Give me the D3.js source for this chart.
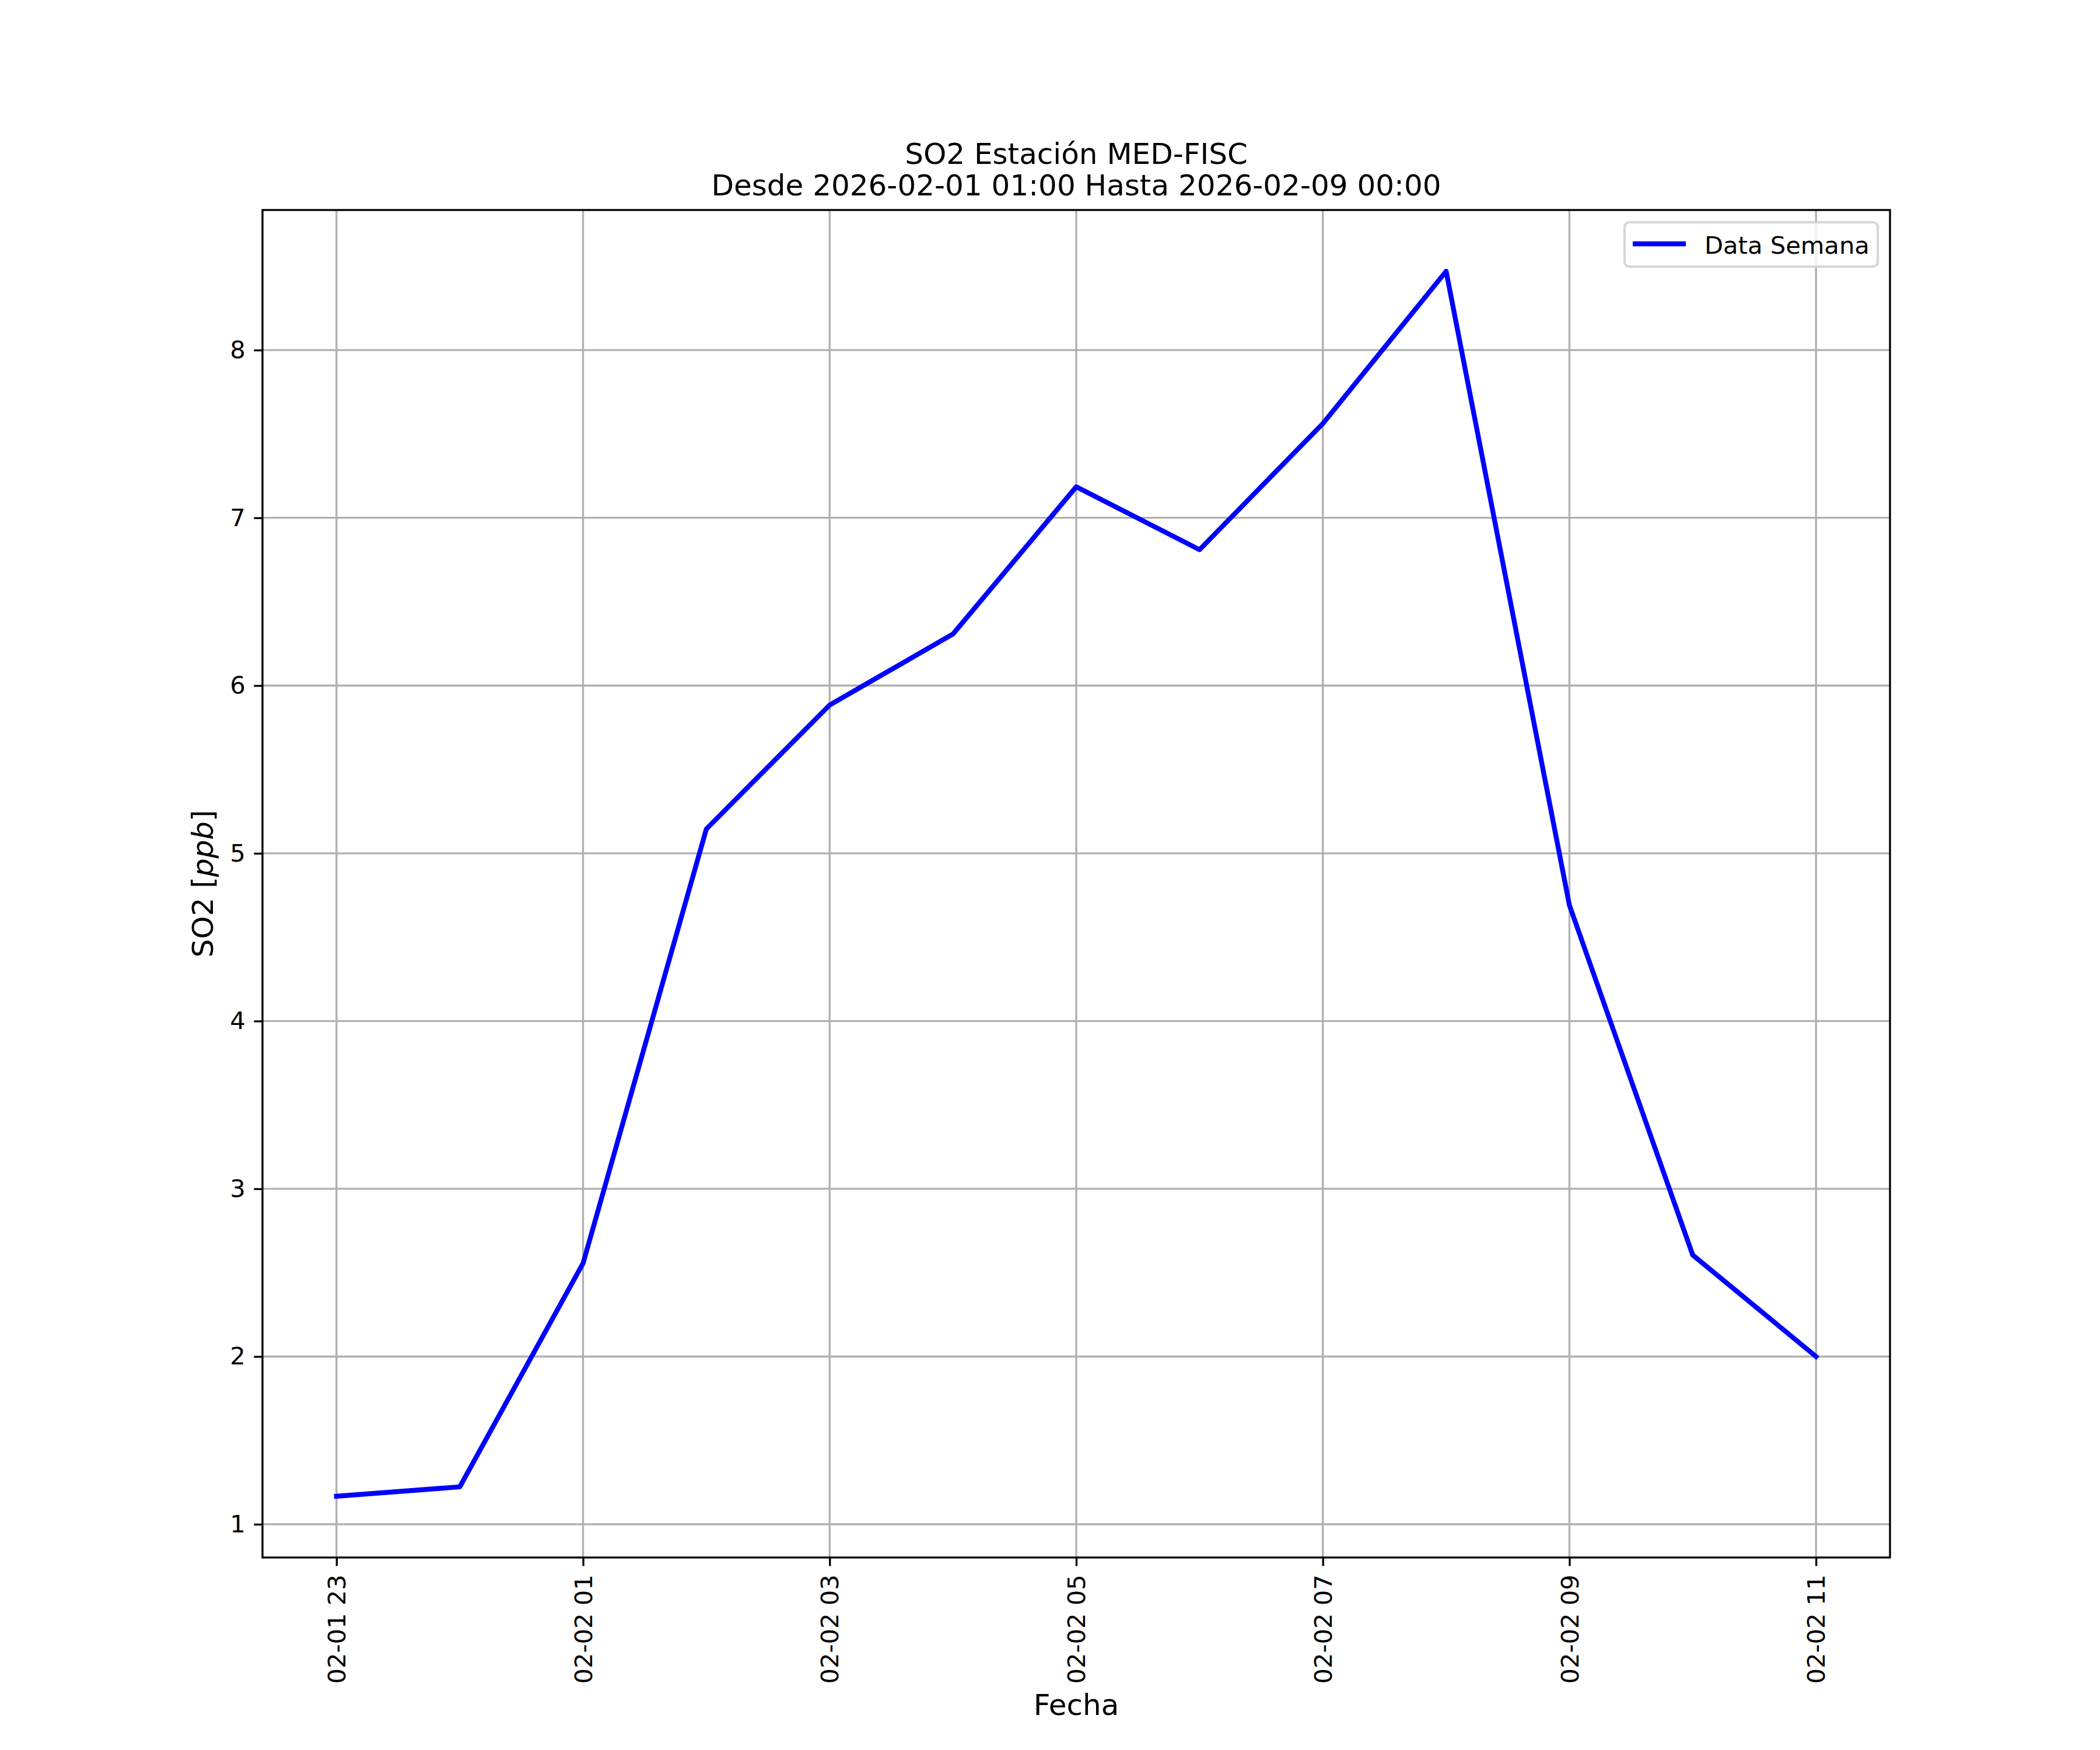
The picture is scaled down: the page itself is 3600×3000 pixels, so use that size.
<!DOCTYPE html>
<html>
<head>
<meta charset="utf-8">
<script src="https://cdn.jsdelivr.net/npm/d3@7"></script>
<style>
  html, body { margin: 0; padding: 0; background: #fff; }
  svg { display: block; }
  text { font-family: "DejaVu Sans", sans-serif; fill: #000; }
</style>
</head>
<body>
<script>
// ---------- data ----------
const times = [
  "2026-02-01 23:00", "2026-02-02 00:00", "2026-02-02 01:00", "2026-02-02 02:00",
  "2026-02-02 03:00", "2026-02-02 04:00", "2026-02-02 05:00", "2026-02-02 06:00",
  "2026-02-02 07:00", "2026-02-02 08:00", "2026-02-02 09:00", "2026-02-02 10:00",
  "2026-02-02 11:00"
];
const so2 = [1.167, 1.223, 2.556, 5.145, 5.884, 6.307, 7.185, 6.810, 7.562, 8.470, 4.690, 2.605, 2.000];
const xTickLabels = ["02-01 23", "02-02 01", "02-02 03", "02-02 05", "02-02 07", "02-02 09", "02-02 11"];
const yTicks = [1, 2, 3, 4, 5, 6, 7, 8];
const titleLines = ["SO2 Estación MED-FISC", "Desde 2026-02-01 01:00 Hasta 2026-02-09 00:00"];
const seriesName = "Data Semana";

// ---------- layout ----------
const W = 3600, H = 3000;
const pLeft = 450, pRight = 3240, pTop = 360, pBottom = 2670;
const dpi = 300, pt = dpi / 72;
const fsTick = 10 * pt, fsLabel = 12 * pt;

const parseT = d3.utcParse("%Y-%m-%d %H:%M");
const parseTick = s => d3.utcParse("%Y-%m-%d %H")("2026-" + s);
const data = times.map((t, i) => ({ t: parseT(t), v: so2[i] }));

// matplotlib style 5% margins
const tExt = d3.extent(data, d => +d.t);
const tPad = (tExt[1] - tExt[0]) * 0.05;
const vExt = d3.extent(data, d => d.v);
const vPad = (vExt[1] - vExt[0]) * 0.05;

const x = d3.scaleUtc().domain([new Date(tExt[0] - tPad), new Date(tExt[1] + tPad)]).range([pLeft, pRight]);
const y = d3.scaleLinear().domain([vExt[0] - vPad, vExt[1] + vPad]).range([pBottom, pTop]);

const svg = d3.select("body").append("svg").attr("width", W).attr("height", H);
svg.append("rect").attr("width", W).attr("height", H).attr("fill", "#fff");

const xTickDates = xTickLabels.map(parseTick);

// grid
const grid = svg.append("g").attr("stroke", "#b0b0b0").attr("stroke-width", 0.8 * pt);
grid.selectAll("line.gx").data(xTickDates).join("line").attr("class", "gx")
  .attr("x1", d => x(d)).attr("x2", d => x(d)).attr("y1", pTop).attr("y2", pBottom);
grid.selectAll("line.gy").data(yTicks).join("line").attr("class", "gy")
  .attr("x1", pLeft).attr("x2", pRight).attr("y1", d => y(d)).attr("y2", d => y(d));

// line
const line = d3.line().x(d => x(d.t)).y(d => y(d.v));
svg.append("path").datum(data)
  .attr("d", line).attr("fill", "none").attr("stroke", "#0000ff")
  .attr("stroke-width", 2 * pt).attr("stroke-linejoin", "round").attr("stroke-linecap", "square");

// axes
const tickLen = 3.5 * pt, tickPad = 3.5 * pt;
const xAxis = d3.axisBottom(x).tickValues(xTickDates)
  .tickFormat((d, i) => xTickLabels[i]).tickSizeInner(tickLen).tickSizeOuter(0).tickPadding(tickPad);
const gx = svg.append("g").attr("transform", `translate(0,${pBottom})`).call(xAxis);
gx.select(".domain").remove();
gx.selectAll(".tick line").attr("stroke", "#000").attr("stroke-width", 0.8 * pt);
gx.selectAll(".tick text")
  .attr("font-size", fsTick).attr("font-family", "DejaVu Sans")
  .attr("fill", "#000")
  .attr("text-anchor", "end")
  .attr("dy", "0.35em")
  .attr("transform", `translate(0,${tickLen + tickPad}) rotate(-90)`)
  .attr("x", 0).attr("y", 0);

const yAxis = d3.axisLeft(y).tickValues(yTicks).tickFormat(d3.format("d"))
  .tickSizeInner(tickLen).tickSizeOuter(0).tickPadding(tickPad);
const gy = svg.append("g").attr("transform", `translate(${pLeft},0)`).call(yAxis);
gy.select(".domain").remove();
gy.selectAll(".tick line").attr("stroke", "#000").attr("stroke-width", 0.8 * pt);
gy.selectAll(".tick text").attr("font-size", fsTick).attr("font-family", "DejaVu Sans").attr("fill", "#000");

// spines
svg.append("rect").attr("x", pLeft).attr("y", pTop).attr("width", pRight - pLeft).attr("height", pBottom - pTop)
  .attr("fill", "none").attr("stroke", "#000").attr("stroke-width", 0.8 * pt);

// title
svg.append("text").attr("x", (pLeft + pRight) / 2).attr("y", 281)
  .attr("text-anchor", "middle").attr("font-size", fsLabel).text(titleLines[0]);
svg.append("text").attr("x", (pLeft + pRight) / 2).attr("y", 335)
  .attr("text-anchor", "middle").attr("font-size", fsLabel).text(titleLines[1]);

// axis labels
svg.append("text").attr("x", (pLeft + pRight) / 2).attr("y", 2940)
  .attr("text-anchor", "middle").attr("font-size", fsLabel).text("Fecha");
const yl = svg.append("text").attr("transform", `translate(365,${(pTop + pBottom) / 2}) rotate(-90)`)
  .attr("text-anchor", "middle").attr("font-size", fsLabel);
yl.append("tspan").text("SO2 [");
yl.append("tspan").attr("font-style", "italic").text("ppb");
yl.append("tspan").text("]");

// legend
const lg = svg.append("g");
const lx0 = 2785, lx1 = 3219, ly0 = 381, ly1 = 457;
lg.append("rect").attr("x", lx0).attr("y", ly0).attr("width", lx1 - lx0).attr("height", ly1 - ly0)
  .attr("rx", 8).attr("ry", 8)
  .attr("fill", "rgba(255,255,255,0.8)").attr("stroke", "rgba(204,204,204,0.8)").attr("stroke-width", 1 * pt);
lg.append("line").attr("x1", 2799).attr("x2", 2890).attr("y1", 418).attr("y2", 418)
  .attr("stroke", "#0000ff").attr("stroke-width", 2 * pt);
lg.append("text").attr("x", 2922).attr("y", 420).attr("dy", "0.35em")
  .attr("font-size", fsTick).text(seriesName);
</script>
</body>
</html>
